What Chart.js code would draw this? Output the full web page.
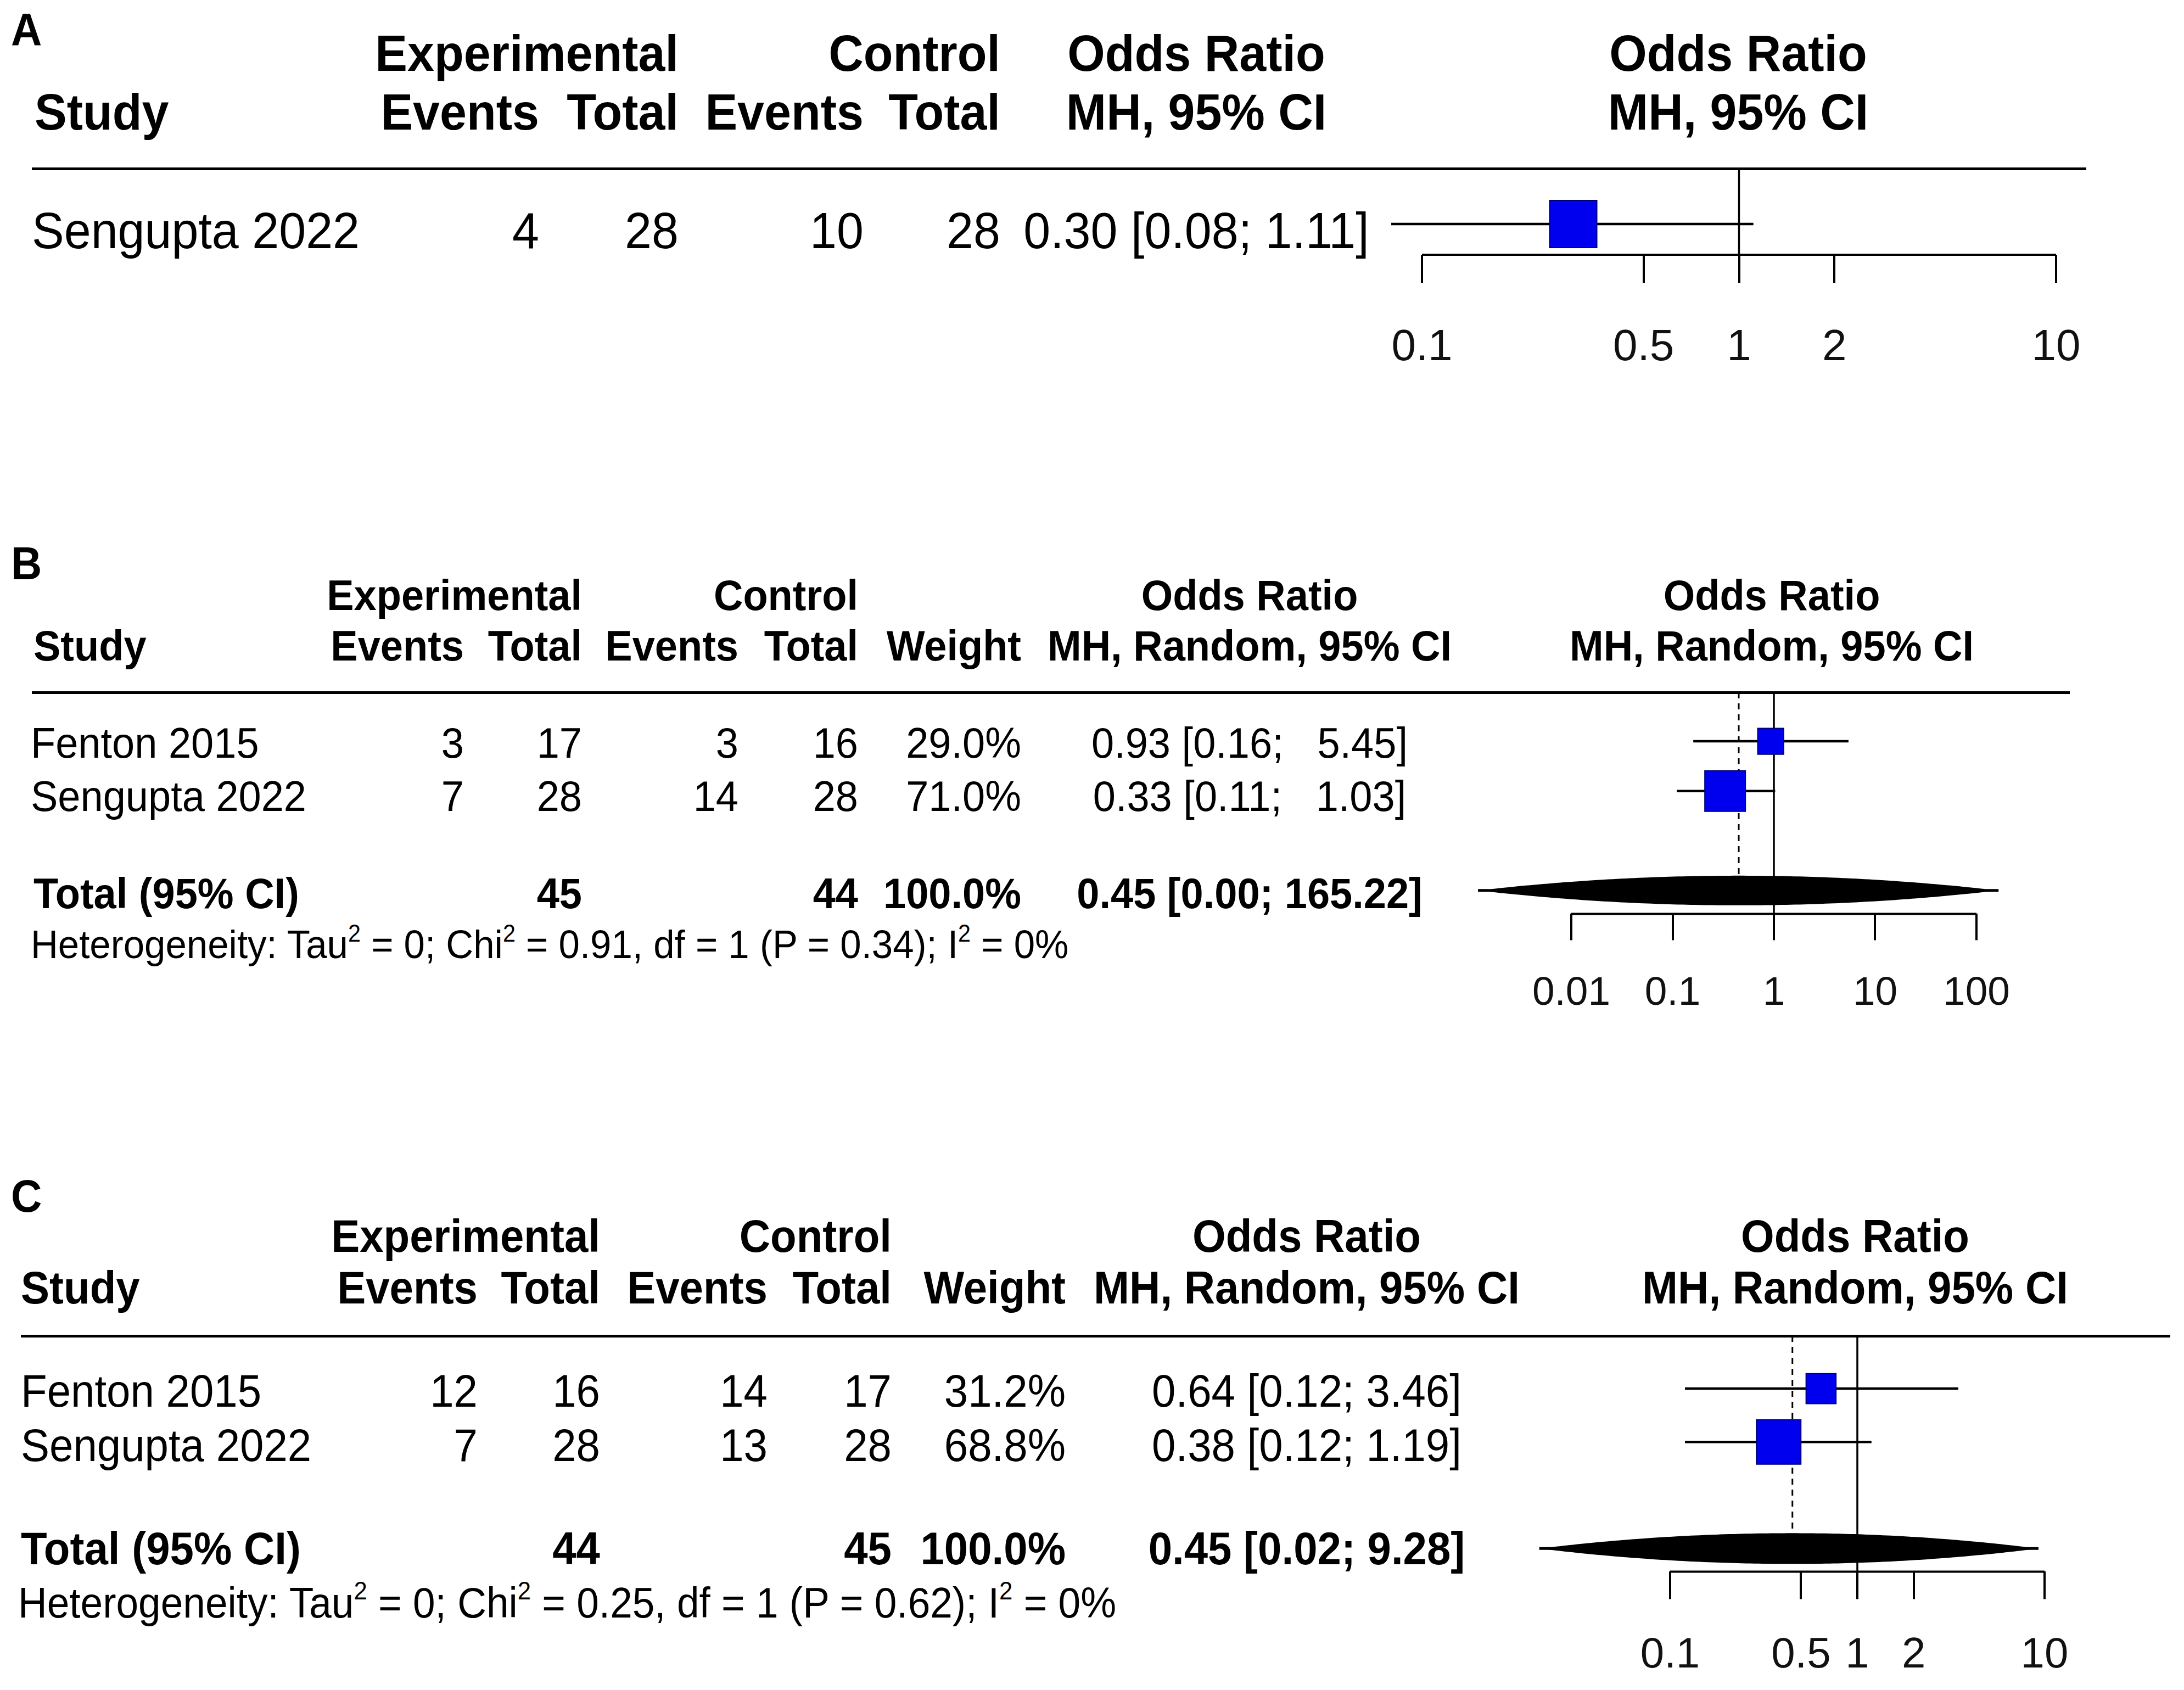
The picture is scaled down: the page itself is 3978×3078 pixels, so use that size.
<!DOCTYPE html>
<html>
<head>
<meta charset="utf-8">
<title>Forest plots A-C</title>
<script src="https://cdn.jsdelivr.net/npm/chart.js@4.4.1/dist/chart.umd.min.js"></script>
<style>
  html, body { margin: 0; padding: 0; background: #fff; }
  #page {
    position: relative;
    width: 3978px; height: 3078px;
    overflow: hidden;
    background: #fff;
    font-family: "Liberation Sans", Arial, Helvetica, sans-serif;
    color: #000;
  }
  .t { position: absolute; white-space: pre; line-height: 1; }
  .b { font-weight: bold; }
  .rule { position: absolute; height: 5px; background: #000; }
  canvas { position: absolute; }
  sup { font-size: 0.6em; position: relative; top: -0.7em; vertical-align: baseline; line-height: 0; }
</style>
</head>
<body>
<div id="page"></div>
<script>
// ---- data: panel A ----
const studiesA = ['Sengupta 2022'];
const expEventsA = [4];
const expTotalA = [28];
const ctrlEventsA = [10];
const ctrlTotalA = [28];
const orA = [0.30];
const loA = [0.08];
const hiA = [1.11];
const weightA = [100];
const tickValsA = [0.1, 0.5, 1, 2, 10];
const tickLabelsA = ['0.1', '0.5', '1', '2', '10'];

// ---- data: panel B ----
const studiesB = ['Fenton 2015', 'Sengupta 2022'];
const expEventsB = [3, 7];
const expTotalB = [17, 28];
const ctrlEventsB = [3, 14];
const ctrlTotalB = [16, 28];
const orB = [0.93, 0.33];
const loB = [0.16, 0.11];
const hiB = [5.45, 1.03];
const weightB = [29.0, 71.0];
const pooledB = [0.45, 0.0012, 165.22];   // estimate, lower, upper
const hetB = [0, 0.91, 1, 0.34, 0];       // Tau2, Chi2, df, P, I2
const tickValsB = [0.01, 0.1, 1, 10, 100];
const tickLabelsB = ['0.01', '0.1', '1', '10', '100'];

// ---- data: panel C ----
const studiesC = ['Fenton 2015', 'Sengupta 2022'];
const expEventsC = [12, 7];
const expTotalC = [16, 28];
const ctrlEventsC = [14, 13];
const ctrlTotalC = [17, 28];
const orC = [0.64, 0.38];
const loC = [0.12, 0.12];
const hiC = [3.46, 1.19];
const weightC = [31.2, 68.8];
const pooledC = [0.45, 0.02, 9.28];
const hetC = [0, 0.25, 1, 0.62, 0];
const tickValsC = [0.1, 0.5, 1, 2, 10];
const tickLabelsC = ['0.1', '0.5', '1', '2', '10'];

const FONT = '"Liberation Sans", Arial, Helvetica, sans-serif';
const page = document.getElementById('page');

// place a text line; cy = vertical centre of capitals
function put(html, x, cy, fs, align, bold) {
  const d = document.createElement('div');
  d.className = 't' + (bold ? ' b' : '');
  d.style.fontSize = fs + 'px';
  d.style.top = (cy - 0.4885 * fs) + 'px';
  d.style.transformOrigin = `0 ${0.4885 * fs}px`;
  d.style.transform = 'scaleY(1.06)';   // the original type is a little tall
  const W = 2400;
  if (align === 'right') {
    d.style.left = (x - W) + 'px'; d.style.width = W + 'px'; d.style.textAlign = 'right';
  } else if (align === 'center') {
    d.style.left = (x - W / 2) + 'px'; d.style.width = W + 'px'; d.style.textAlign = 'center';
  } else {
    d.style.left = x + 'px';
  }
  d.innerHTML = html;
  page.appendChild(d);
}

function rule(x0, x1, y) {
  const d = document.createElement('div');
  d.className = 'rule';
  d.style.left = x0 + 'px';
  d.style.width = (x1 - x0) + 'px';
  d.style.top = (y - 2.5) + 'px';
  page.appendChild(d);
}

const sum = a => a.reduce((s, v) => s + v, 0);

// null line, axis line, dashed pooled line and summary diamond
const forestExtras = {
  id: 'forestExtras',
  beforeDatasetsDraw(chart, args, o) {
    const { ctx, chartArea } = chart;
    const x = chart.scales.x, y = chart.scales.y;
    const yTop = y.getPixelForValue(o.ruleVal);
    ctx.save();
    ctx.strokeStyle = '#000';
    ctx.lineWidth = 3.5;
    const x1 = x.getPixelForValue(1);
    ctx.beginPath();
    ctx.moveTo(x1, yTop);
    ctx.lineTo(x1, chartArea.bottom);
    ctx.stroke();

    ctx.lineWidth = 4;
    ctx.beginPath();
    ctx.moveTo(x.getPixelForValue(o.ticks[0]), chartArea.bottom);
    ctx.lineTo(x.getPixelForValue(o.ticks[o.ticks.length - 1]), chartArea.bottom);
    ctx.stroke();

    if (o.pooled) {
      const [est, lo, hi] = o.pooled;
      const yc = y.getPixelForValue(o.totalRow);
      const xe = x.getPixelForValue(est);
      const xl = x.getPixelForValue(lo);
      const xh = x.getPixelForValue(hi);
      const H = o.diamondH;

      ctx.setLineDash([11, 9]);
      ctx.lineWidth = 3;
      ctx.beginPath();
      ctx.moveTo(xe, yTop);
      ctx.lineTo(xe, yc - H);
      ctx.stroke();
      ctx.setLineDash([]);

      const N = 60, top = [], bot = [];
      for (let i = 0; i <= N; i++) {
        const u = i / N;
        const px = xl + (xe - xl) * u;
        const h = Math.max(2.5, H * (1 - (1 - u) * (1 - u)));
        top.push([px, yc - h]); bot.push([px, yc + h]);
      }
      for (let i = 1; i <= N; i++) {
        const u = i / N;
        const px = xe + (xh - xe) * u;
        const h = Math.max(2.5, H * (1 - u * u));
        top.push([px, yc - h]); bot.push([px, yc + h]);
      }
      ctx.fillStyle = '#000';
      ctx.beginPath();
      top.forEach(([px, py], i) => i ? ctx.lineTo(px, py) : ctx.moveTo(px, py));
      bot.reverse().forEach(([px, py]) => ctx.lineTo(px, py));
      ctx.closePath();
      ctx.fill();
    }
    ctx.restore();
  }
};

function drawPanel(P, D) {
  // panel letter and table
  put(P.letter, 20, P.letterY, 78, 'left', true);
  const c = P.cols;
  put('Experimental', c.expTot, P.headY1, P.fsHead, 'right', true);
  put('Control', c.ctlTot, P.headY1, P.fsHead, 'right', true);
  put('Odds Ratio', c.ci, P.headY1, P.fsHead, 'center', true);
  put('Odds Ratio', c.plotHead, P.headY1, P.fsHead, 'center', true);
  put('Study', P.studyHeadX, P.headY2, P.fsHead, 'left', true);
  put('Events', c.expEv, P.headY2, P.fsHead, 'right', true);
  put('Total', c.expTot, P.headY2, P.fsHead, 'right', true);
  put('Events', c.ctlEv, P.headY2, P.fsHead, 'right', true);
  put('Total', c.ctlTot, P.headY2, P.fsHead, 'right', true);
  if (c.weight) put('Weight', c.weight, P.headY2, P.fsHead, 'right', true);
  put(P.method, c.ci, P.headY2, P.fsHead, 'center', true);
  put(P.method, c.plotHead, P.headY2, P.fsHead, 'center', true);
  rule(P.ruleX0, P.ruleX1, P.ruleY);

  const his = D.hi.map(v => v.toFixed(2));
  if (D.pooled) his.push(D.pooled[2].toFixed(2));
  const hiLen = Math.max(...his.map(s => s.length));
  const ciText = (o, l, h) => `${o.toFixed(2)} [${l.toFixed(2)}; ${h.toFixed(2).padStart(hiLen)}]`;

  D.studies.forEach((s, i) => {
    const cy = P.rowTextY[i];
    put(s, P.studyX, cy, P.fsRow, 'left', false);
    put(String(D.expEv[i]), c.expEv, cy, P.fsRow, 'right', false);
    put(String(D.expTot[i]), c.expTot, cy, P.fsRow, 'right', false);
    put(String(D.ctlEv[i]), c.ctlEv, cy, P.fsRow, 'right', false);
    put(String(D.ctlTot[i]), c.ctlTot, cy, P.fsRow, 'right', false);
    if (c.weight) put(D.w[i].toFixed(1) + '%', c.weight, cy, P.fsRow, 'right', false);
    put(ciText(D.or[i], D.lo[i], D.hi[i]), c.ci, cy, P.fsRow, 'center', false);
  });

  if (D.pooled) {
    const cy = P.totalTextY;
    put('Total (95% CI)', P.studyHeadX, cy, P.fsRow, 'left', true);
    put(String(sum(D.expTot)), c.expTot, cy, P.fsRow, 'right', true);
    put(String(sum(D.ctlTot)), c.ctlTot, cy, P.fsRow, 'right', true);
    put(sum(D.w).toFixed(1) + '%', c.weight, cy, P.fsRow, 'right', true);
    put(ciText(D.pooled[0], D.pooled[1], D.pooled[2]), c.ci, cy, P.fsRow, 'center', true);
    const [tau2, chi2, df, p, i2] = D.het;
    put(`Heterogeneity: Tau<sup>2</sup> = ${tau2}; Chi<sup>2</sup> = ${chi2.toFixed(2)}, df = ${df} (P = ${p.toFixed(2)}); I<sup>2</sup> = ${i2}%`,
        P.hetX, P.hetY, P.fsHet, 'left', false);
  }

  // forest plot canvas
  const L = P.plot;
  const chartTop = P.ruleY - (L.extraTop || 0);
  const perDec = (L.axisPx[1] - L.axisPx[0]) / (Math.log10(L.axisRef[1]) - Math.log10(L.axisRef[0]));
  const xMin = Math.pow(10, Math.log10(L.axisRef[0]) - (L.axisPx[0] - L.left) / perDec);
  const xMax = Math.pow(10, Math.log10(L.axisRef[0]) + (L.right - L.axisPx[0]) / perDec);
  const yMin = 1 - (L.row1Y - chartTop) / L.rowStep;
  const yMax = yMin + (L.axisY - chartTop) / L.rowStep;
  const ruleVal = 1 - (L.row1Y - P.ruleY) / L.rowStep;
  const height = (L.axisY - chartTop) + L.tickLen + 2 * L.tickPad + 1.2 * P.fsTick;

  const cv = document.createElement('canvas');
  cv.width = L.right - L.left;
  cv.height = Math.round(height);
  cv.style.left = L.left + 'px';
  cv.style.top = chartTop + 'px';
  cv.style.width = cv.width + 'px';
  cv.style.height = cv.height + 'px';
  page.appendChild(cv);

  const rows = D.studies.map((s, i) => i + 1);
  const datasets = [{
    label: 'Odds ratio',
    data: D.or.map((v, i) => ({ x: v, y: rows[i] })),
    pointStyle: 'rect',
    pointRadius: D.w.map(w => L.squareMax * Math.sqrt(w / 100) / Math.SQRT2),
    backgroundColor: '#0000ee',
    borderColor: '#00007a',
    borderWidth: 2
  }];
  D.studies.forEach((s, i) => {
    datasets.push({
      label: s + ' 95% CI',
      data: [{ x: D.lo[i], y: rows[i] }, { x: D.hi[i], y: rows[i] }],
      showLine: true,
      borderColor: '#000',
      borderWidth: 4.5,
      pointRadius: 0
    });
  });

  new Chart(cv.getContext('2d'), {
    type: 'scatter',
    data: { datasets },
    options: {
      responsive: false,
      devicePixelRatio: 1,
      animation: false,
      events: [],
      layout: { padding: 0, autoPadding: false },
      plugins: {
        legend: { display: false },
        tooltip: { enabled: false },
        forestExtras: {
          ticks: D.tickVals,
          pooled: D.pooled,
          ruleVal: ruleVal,
          totalRow: D.studies.length + 2,
          diamondH: L.diamondH || 0
        }
      },
      scales: {
        x: {
          type: 'logarithmic',
          min: xMin, max: xMax,
          bounds: 'data',
          afterBuildTicks: sc => { sc.ticks = D.tickVals.map(v => ({ value: v })); },
          border: { display: false },
          grid: { drawOnChartArea: false, drawTicks: true, tickLength: L.tickLen, color: '#000', lineWidth: 4 },
          ticks: {
            autoSkip: false, maxRotation: 0, minRotation: 0,
            padding: L.tickPad, color: '#111',
            font: { family: FONT, size: P.fsTick },
            callback: (v, i) => D.tickLabels[i]
          }
        },
        y: { type: 'linear', reverse: true, min: yMin, max: yMax, display: false }
      }
    },
    plugins: [forestExtras]
  });
}

drawPanel({
  letter: 'A', letterY: 53, method: 'MH, 95% CI',
  fsHead: 88, fsRow: 88, fsTick: 80,
  headY1: 96, headY2: 203, ruleY: 307, ruleX0: 58, ruleX1: 3800,
  studyHeadX: 63, studyX: 58, rowTextY: [419],
  cols: { expEv: 982, expTot: 1236, ctlEv: 1573, ctlTot: 1822, ci: 2179, plotHead: 3166 },
  plot: { left: 2430, right: 3890, extraTop: 160, axisRef: [0.1, 10], axisPx: [2590, 3745],
          axisY: 464, row1Y: 408, rowStep: 101, tickLen: 51, tickPad: 71, squareMax: 86 }
}, {
  studies: studiesA, expEv: expEventsA, expTot: expTotalA, ctlEv: ctrlEventsA, ctlTot: ctrlTotalA,
  or: orA, lo: loA, hi: hiA, w: weightA, tickVals: tickValsA, tickLabels: tickLabelsA
});

drawPanel({
  letter: 'B', letterY: 1025, method: 'MH, Random, 95% CI',
  fsHead: 74, fsRow: 74, fsTick: 73, fsHet: 69,
  headY1: 1083, headY2: 1175, ruleY: 1261, ruleX0: 58, ruleX1: 3770,
  studyHeadX: 61, studyX: 56, rowTextY: [1352, 1449], totalTextY: 1626, hetX: 56, hetY: 1720,
  cols: { expEv: 845, expTot: 1060, ctlEv: 1345, ctlTot: 1563, weight: 1860, ci: 2276, plotHead: 3227 },
  plot: { left: 2640, right: 3760, axisRef: [0.01, 100], axisPx: [2862, 3600],
          axisY: 1664, row1Y: 1350, rowStep: 90.5, tickLen: 48, tickPad: 54, squareMax: 87.8, diamondH: 27 }
}, {
  studies: studiesB, expEv: expEventsB, expTot: expTotalB, ctlEv: ctrlEventsB, ctlTot: ctrlTotalB,
  or: orB, lo: loB, hi: hiB, w: weightB, pooled: pooledB, het: hetB,
  tickVals: tickValsB, tickLabels: tickLabelsB
});

drawPanel({
  letter: 'C', letterY: 2177, method: 'MH, Random, 95% CI',
  fsHead: 78, fsRow: 78, fsTick: 78, fsHet: 73,
  headY1: 2250, headY2: 2344, ruleY: 2433, ruleX0: 38, ruleX1: 3953,
  studyHeadX: 38, studyX: 38, rowTextY: [2532, 2631], totalTextY: 2819, hetX: 33, hetY: 2918,
  cols: { expEv: 870, expTot: 1093, ctlEv: 1398, ctlTot: 1624, weight: 1941, ci: 2380, plotHead: 3379 },
  plot: { left: 2780, right: 3860, axisRef: [0.1, 10], axisPx: [3042, 3724],
          axisY: 2862, row1Y: 2529, rowStep: 97, tickLen: 50, tickPad: 56, squareMax: 97.7, diamondH: 28 }
}, {
  studies: studiesC, expEv: expEventsC, expTot: expTotalC, ctlEv: ctrlEventsC, ctlTot: ctrlTotalC,
  or: orC, lo: loC, hi: hiC, w: weightC, pooled: pooledC, het: hetC,
  tickVals: tickValsC, tickLabels: tickLabelsC
});
</script>
</body>
</html>
